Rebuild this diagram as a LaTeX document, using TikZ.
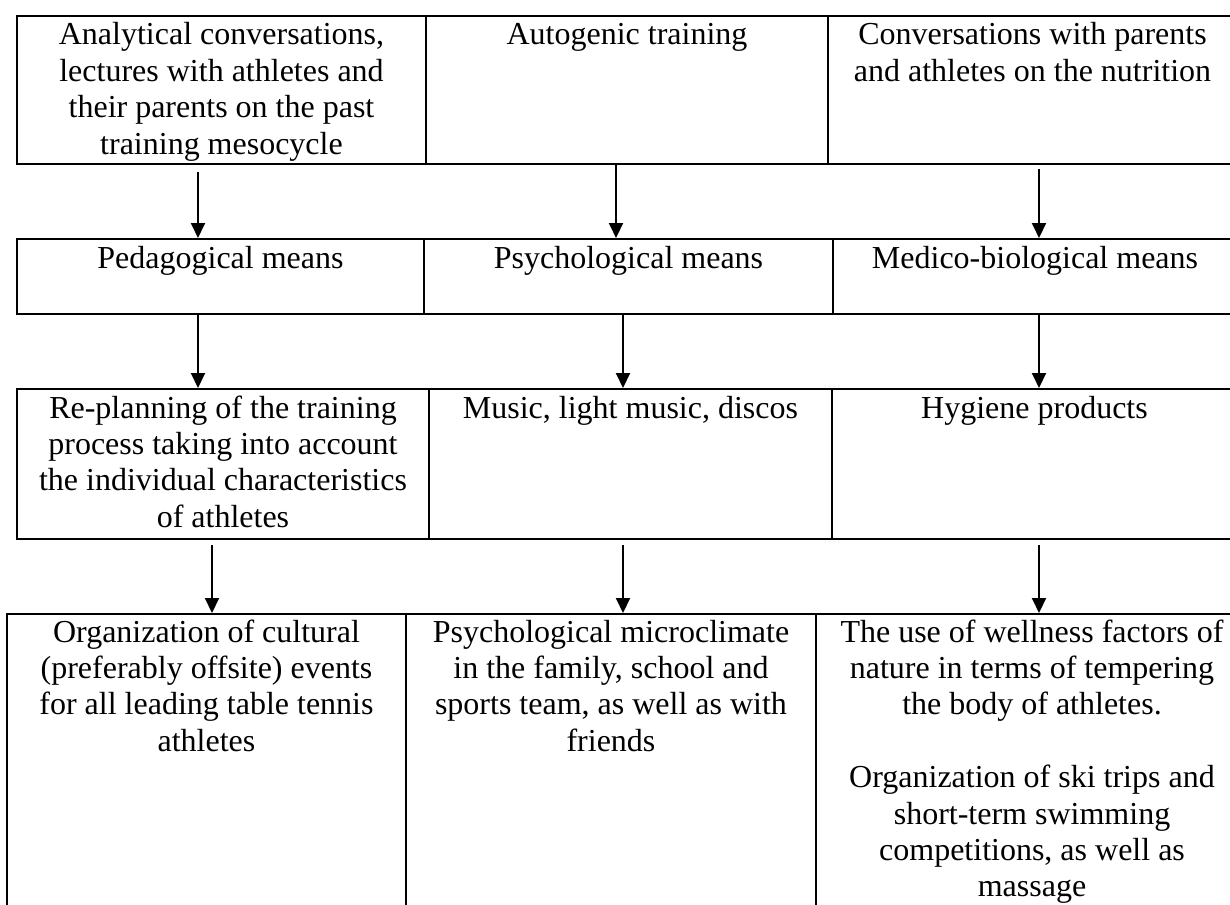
\documentclass[tikz,border=0pt]{standalone}
\usepackage{fontspec}
\setmainfont{Liberation Serif}
\usetikzlibrary{arrows.meta,calc}
\begin{document}
\begin{tikzpicture}[x=1pt,y=-1pt,
  box/.style={draw, line width=2pt, inner sep=0pt, anchor=north west},
  txt/.style={font=\fontsize{32}{36.4}\selectfont, align=center, inner sep=0pt, anchor=base},
  arr/.style={-{Triangle[length=15pt,width=14pt]}, line width=2pt}]
\useasboundingbox (0,0) rectangle (1230,904);
% row 1
\node[box, minimum width=409pt, minimum height=148pt] (r1a) at (16,15) {};
\node[box, minimum width=402pt, minimum height=148pt] (r1b) at (425,15) {};
\node[box, minimum width=409pt, minimum height=148pt] (r1c) at (827,15) {};
% row 2
\node[box, minimum width=407pt, minimum height=75pt] (r2a) at (16,238) {};
\node[box, minimum width=409pt, minimum height=75pt] (r2b) at (423,238) {};
\node[box, minimum width=404pt, minimum height=75pt] (r2c) at (832,238) {};
% row 3
\node[box, minimum width=412pt, minimum height=150pt] (r3a) at (16,388) {};
\node[box, minimum width=403pt, minimum height=150pt] (r3b) at (428,388) {};
\node[box, minimum width=405pt, minimum height=150pt] (r3c) at (831,388) {};
% row 4
\node[box, minimum width=399pt, minimum height=310pt] (r4a) at (6,613) {};
\node[box, minimum width=410pt, minimum height=310pt] (r4b) at (405,613) {};
\node[box, minimum width=432pt, minimum height=310pt] (r4c) at (815,613) {};
% texts (anchor = baseline of the last line)
\node[txt] (t1a) at ([yshift=-139.2pt]r1a.north) {Analytical conversations,\\lectures with athletes and\\their parents on the past\\training mesocycle};
\node[txt] (t1b) at ([yshift=-30pt]r1b.north) {Autogenic training};
\node[txt] (t1c) at ([yshift=-66.4pt]r1c.north) {Conversations with parents\\and athletes on the nutrition};
\node[txt] (t2a) at ([yshift=-30pt]r2a.north) {Pedagogical means};
\node[txt] (t2b) at ([yshift=-30pt]r2b.north) {Psychological means};
\node[txt] (t2c) at ([yshift=-30pt]r2c.north) {Medico-biological means};
\node[txt] (t3a) at ([yshift=-139.2pt]r3a.north) {Re-planning of the training\\process taking into account\\the individual characteristics\\of athletes};
\node[txt] (t3b) at ([yshift=-30pt]r3b.north) {Music, light music, discos};
\node[txt] (t3c) at ([yshift=-30pt]r3c.north) {Hygiene products};
\node[txt] (t4a) at ([yshift=-138.2pt]r4a.north) {Organization of cultural\\(preferably offsite) events\\for all leading table tennis\\athletes};
\node[txt] (t4b) at ([yshift=-138.2pt]r4b.north) {Psychological microclimate\\in the family, school and\\sports team, as well as with\\friends};
\node[txt] (t4c) at ([yshift=-283.8pt]r4c.north) {The use of wellness factors of\\nature in terms of tempering\\the body of athletes.\\[36.4pt]Organization of ski trips and\\short-term swimming\\competitions, as well as\\massage};
% arrows
\draw[arr] ($(r1a.south west)+(182,7)$) -- ($(r2a.north west)+(182,0)$);
\draw[arr] ($(r1b.south west)+(191,0)$) -- ($(r2b.north west)+(193,0)$);
\draw[arr] ($(r1c.south west)+(212,4)$) -- ($(r2c.north west)+(207,0)$);
\draw[arr] ($(r2a.south west)+(182,0)$) -- ($(r3a.north west)+(182,0)$);
\draw[arr] ($(r2b.south west)+(200,0)$) -- ($(r3b.north west)+(195,0)$);
\draw[arr] ($(r2c.south west)+(207,0)$) -- ($(r3c.north west)+(208,0)$);
\draw[arr] ($(r3a.south west)+(196,5)$) -- ($(r4a.north west)+(206,0)$);
\draw[arr] ($(r3b.south west)+(195,5)$) -- ($(r4b.north west)+(218,0)$);
\draw[arr] ($(r3c.south west)+(208,5)$) -- ($(r4c.north west)+(224,0)$);
\end{tikzpicture}
\end{document}
